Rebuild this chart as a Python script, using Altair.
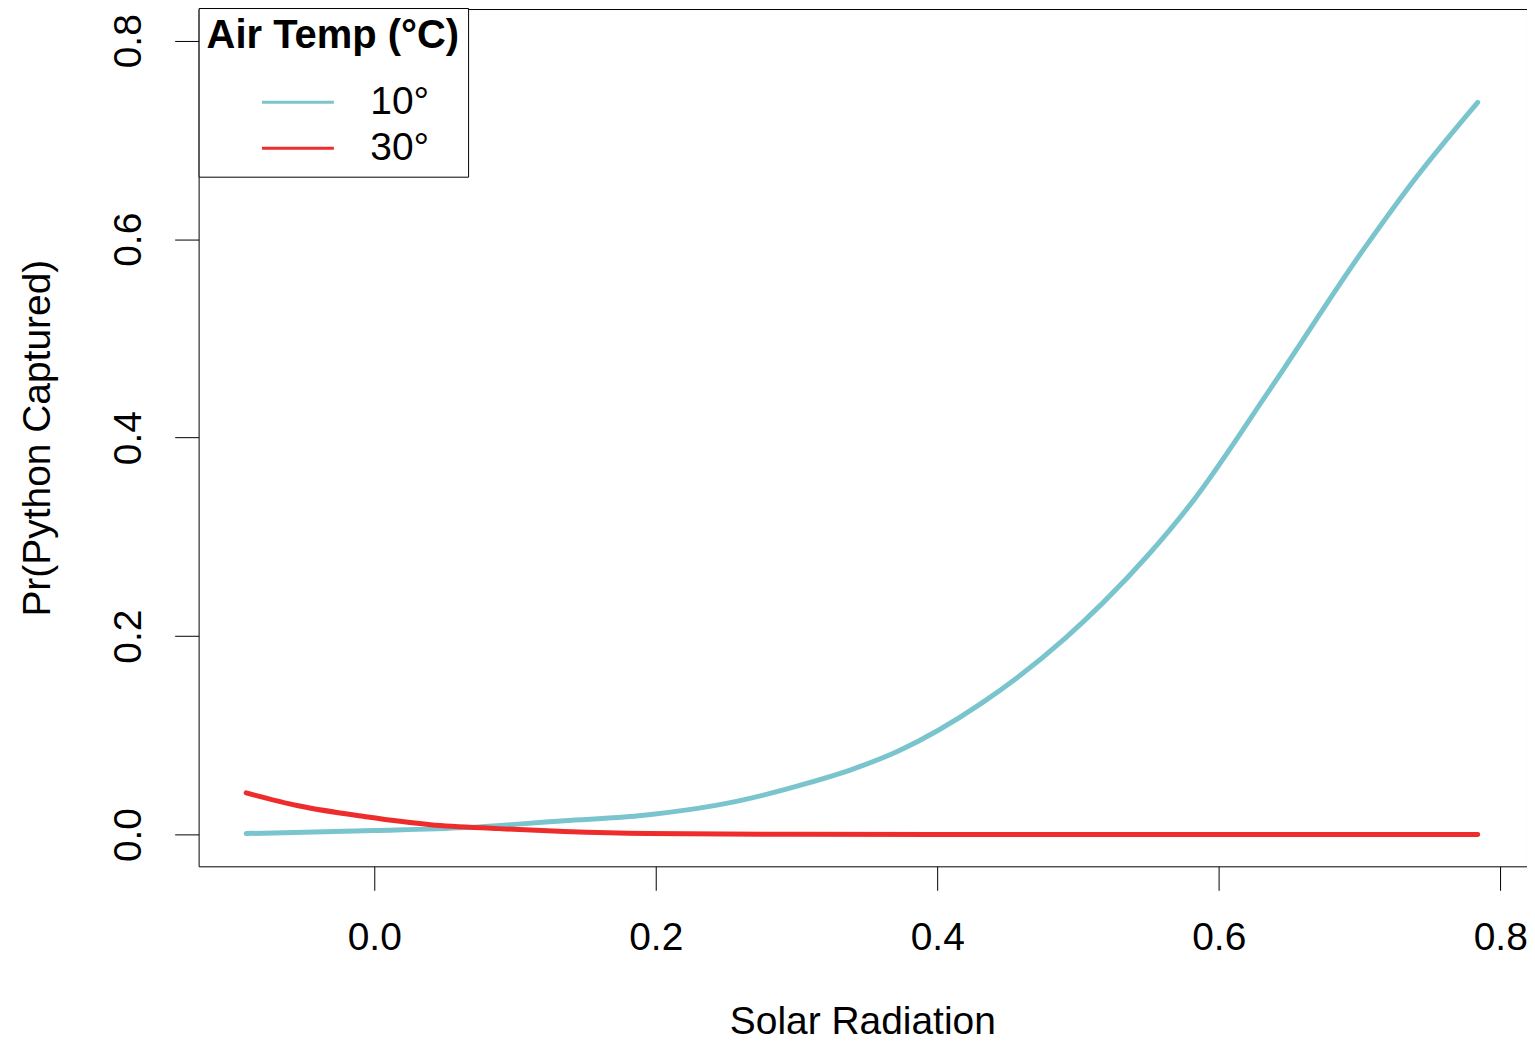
import altair as alt
import pandas as pd

# Solar radiation vs predicted capture probability
blue_x = [-0.091, 0.0, 0.065, 0.135, 0.188, 0.259, 0.306, 0.342, 0.372,
          0.431, 0.491, 0.518, 0.550, 0.580, 0.637, 0.703, 0.739, 0.784]
blue_y = [0.001, 0.004, 0.007, 0.014, 0.019, 0.034, 0.051, 0.067, 0.084,
          0.132, 0.198, 0.234, 0.282, 0.333, 0.450, 0.590, 0.660, 0.738]

red_x = [-0.091, -0.054, -0.006, 0.040, 0.088, 0.135, 0.194, 0.300, 0.400, 0.500, 0.650, 0.784]
red_y = [0.042, 0.029, 0.018, 0.010, 0.006, 0.003, 0.001, 0.0003, 0.0001, 0.0, 0.0, 0.0]

series = ["10°", "30°"]
colors = ["#7AC5CD", "#EE2C2C"]

x_ticks = [0.0, 0.2, 0.4, 0.6, 0.8]
y_ticks = [0.0, 0.2, 0.4, 0.6, 0.8]

df = pd.concat([
    pd.DataFrame({"solar": blue_x, "prob": blue_y, "temp": series[0], "o": range(len(blue_x))}),
    pd.DataFrame({"solar": red_x, "prob": red_y, "temp": series[1], "o": range(len(red_x))}),
])

FONT = "Liberation Sans"
FS = 39

chart = alt.Chart(df).mark_line(
    strokeWidth=5, interpolate="monotone", strokeCap="round"
).encode(
    x=alt.X("solar:Q",
            scale=alt.Scale(domain=[-0.1248, 0.819], nice=False, zero=False),
            axis=alt.Axis(values=x_ticks, format=".1f", title="Solar Radiation",
                          labelBaseline="middle", labelPadding=47,
                          titleX=665, titleY=156, titleBaseline="middle",
                          titleAlign="center")),
    y=alt.Y("prob:Q",
            scale=alt.Scale(domain=[-0.032, 0.832], nice=False, zero=False),
            axis=alt.Axis(values=y_ticks, format=".1f", title="Pr(Python Captured)",
                          labelAngle=270, labelAlign="center", labelBaseline="middle",
                          labelPadding=46,
                          titleX=-161, titleY=429.5, titleAngle=270,
                          titleAlign="center", titleBaseline="middle")),
    color=alt.Color("temp:N",
                    scale=alt.Scale(domain=series, range=colors),
                    legend=alt.Legend(
                        title="Air Temp (°C)", orient="none", legendX=0, legendY=-1,
                        padding=8, strokeColor="black", fillColor="white",
                        titleFont=FONT, titleFontSize=40, titleFontWeight="bold",
                        titleColor="black", titlePadding=21, titleLimit=600,
                        labelFont=FONT, labelFontSize=FS, labelColor="black",
                        symbolType="M-1.5,0H1.5", symbolSize=2304,
                        symbolStrokeWidth=3, symbolOffset=66, labelOffset=47,
                        rowPadding=0)),
    order="o:Q",
).properties(
    width=1331, height=859,
    padding={"left": 191, "top": 0, "right": 0, "bottom": 176},
    autosize="none",
).configure_view(
    stroke="black", strokeWidth=1
).configure_axis(
    domain=False, grid=False, ticks=True, tickSize=24, tickColor="black", tickWidth=1,
    labelFont=FONT, labelFontSize=FS, labelColor="black",
    titleFont=FONT, titleFontSize=FS, titleColor="black", titleFontWeight="normal",
)

chart.save("out.html", embed_options={"renderer": "svg", "actions": False})
